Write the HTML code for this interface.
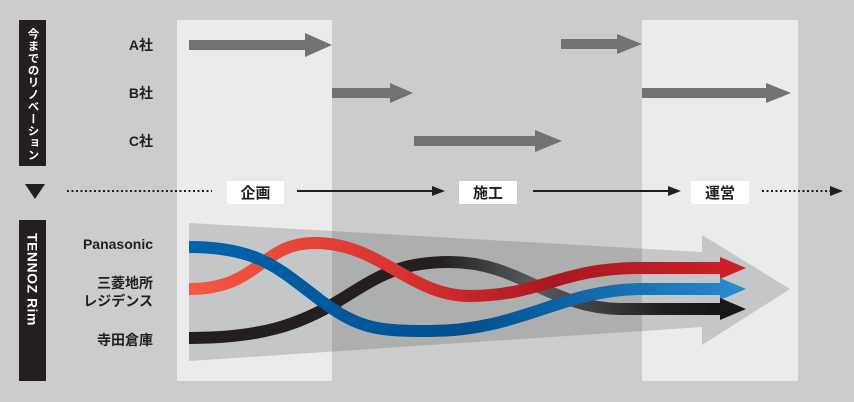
<!DOCTYPE html>
<html><head><meta charset="utf-8"><style>
html,body{margin:0;padding:0;background:#cbcccb;}
svg{display:block;}
text{font-family:"Liberation Sans","Noto Sans CJK JP",sans-serif;font-weight:bold;}
</style></head><body>
<svg width="854" height="402" viewBox="0 0 854 402" xmlns="http://www.w3.org/2000/svg">
<defs>
<linearGradient id="rg" x1="189" x2="745" y1="0" y2="0" gradientUnits="userSpaceOnUse">
<stop offset="0" stop-color="#f25a42"/><stop offset="0.4" stop-color="#d9302f"/><stop offset="0.65" stop-color="#a81820"/><stop offset="1" stop-color="#d0202a"/></linearGradient>
<linearGradient id="bg" x1="189" x2="745" y1="0" y2="0" gradientUnits="userSpaceOnUse">
<stop offset="0" stop-color="#0063ad"/><stop offset="0.5" stop-color="#00508f"/><stop offset="1" stop-color="#2a88cf"/></linearGradient>
<linearGradient id="kg" x1="189" x2="745" y1="0" y2="0" gradientUnits="userSpaceOnUse">
<stop offset="0" stop-color="#231f20"/><stop offset="0.45" stop-color="#231f20"/><stop offset="0.62" stop-color="#5a5a5c"/><stop offset="0.85" stop-color="#231f20"/><stop offset="1" stop-color="#111"/></linearGradient>
</defs>
<rect x="0" y="0" width="854" height="402" fill="#cbcccb"/>
<rect x="177" y="20" width="155" height="361" fill="#ebebeb"/>
<rect x="642" y="20" width="156" height="361" fill="#ebebeb"/>

<g fill="#707273">
<polygon points="189,40 305,40 305,33 332,45 305,57 305,50 189,50"/>
<polygon points="561,39 617,39 617,34 642,44 617,54 617,49 561,49"/>
<polygon points="332,88 390,88 390,83 413,93 390,103 390,98 332,98"/>
<polygon points="642,88 766,88 766,83 791,93 766,103 766,98 642,98"/>
<polygon points="414,136 535,136 535,130 562,141 535,152 535,146 414,146"/>
</g>

<rect x="19" y="20" width="27" height="146" fill="#231f20"/>
<text x="32.5" y="28" fill="#fff" font-size="11.5" letter-spacing="0.6" style="writing-mode:vertical-rl" text-anchor="start">今までのリノベーション</text>
<polygon points="25,184 45,184 35,199" fill="#231f20"/>
<rect x="19" y="220" width="27" height="161" fill="#231f20"/>
<text x="0" y="0" fill="#fff" font-size="14" letter-spacing="0.5" transform="translate(27.5,233) rotate(90)">TENNOZ Rim</text>

<g font-size="14" fill="#231f20" text-anchor="end">
<text x="153" y="50">A社</text>
<text x="153" y="98">B社</text>
<text x="153" y="146">C社</text>
<text x="153" y="249">Panasonic</text>
<text x="153" y="288">三菱地所</text>
<text x="153" y="306">レジデンス</text>
<text x="153" y="345">寺田倉庫</text>
</g>

<line x1="67" y1="191" x2="212" y2="191" stroke="#231f20" stroke-width="2" stroke-dasharray="2,2.5"/>
<rect x="227" y="181" width="57" height="23" fill="#fff"/>
<text x="255.5" y="198" font-size="15" fill="#231f20" text-anchor="middle">企画</text>
<line x1="297" y1="191" x2="432" y2="191" stroke="#231f20" stroke-width="2"/>
<polygon points="432,186 445,191 432,196" fill="#231f20"/>
<rect x="459" y="181" width="58" height="23" fill="#fff"/>
<text x="488" y="198" font-size="15" fill="#231f20" text-anchor="middle">施工</text>
<line x1="533" y1="191" x2="668" y2="191" stroke="#231f20" stroke-width="2"/>
<polygon points="668,186 681,191 668,196" fill="#231f20"/>
<rect x="691" y="181" width="58" height="23" fill="#fff"/>
<text x="720" y="198" font-size="15" fill="#231f20" text-anchor="middle">運営</text>
<line x1="762" y1="191" x2="830" y2="191" stroke="#231f20" stroke-width="2" stroke-dasharray="2,2.5"/>
<polygon points="830,186 843,191 830,196" fill="#231f20"/>

<polygon points="189,223 702,252 702,235 790,289 702,345 702,327 189,361" fill="#54575a" fill-opacity="0.25"/>

<g fill="none" stroke-width="12">
<path d="M189,338 C260,338 300,325 340,300 C380,275 400,262 450,262 C520,262 550,308 620,309 L722,309" stroke="url(#kg)"/>
<path d="M189,289 C260,289 260,243 315,243 C380,243 410,296 470,296 C540,296 560,268 640,268 L722,268" stroke="url(#rg)"/>
<path d="M189,247 C260,247 280,270 320,300 C360,330 380,331 430,331 C520,331 560,290 640,289 L722,289" stroke="url(#bg)"/>
</g>
<polygon points="720,257 746,268 720,279" fill="#cc2028"/>
<polygon points="720,278 746,289 720,300" fill="#2a88cf"/>
<polygon points="720,298 746,309 720,320" fill="#1a1718"/>
</svg>
</body></html>
